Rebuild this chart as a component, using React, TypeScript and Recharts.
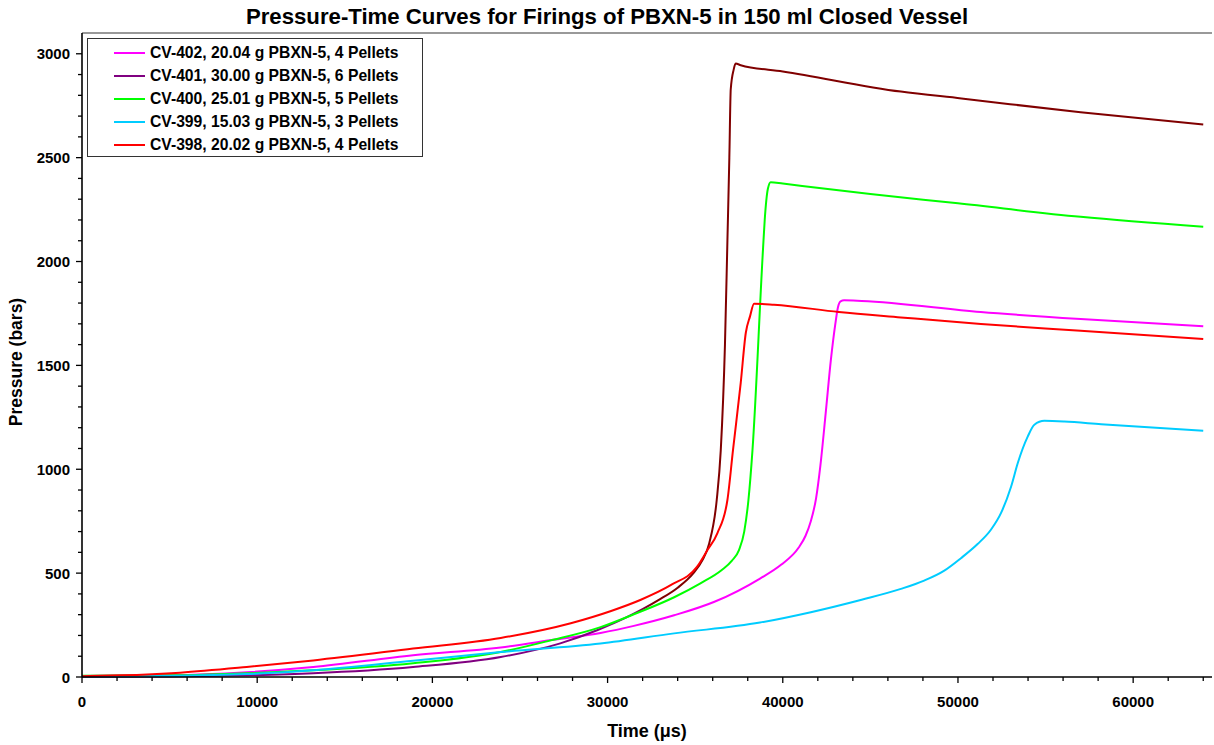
import React from 'react';
import { LineChart, Line, XAxis, YAxis, ReferenceLine, Legend } from 'recharts';

type Pt = [number, number];

// Pressure (bars) against time (µs) for each firing
const cv402: Pt[] = [
  [0, 5], [5000, 8], [9400, 23], [13200, 48], [18900, 105], [23900, 142], [27000, 180],
  [29600, 212], [31500, 246], [33800, 297], [36100, 362], [38700, 474], [39900, 540],
  [40900, 622], [41300, 680], [41600, 750], [41900, 860], [42150, 1020], [42450, 1270],
  [42750, 1530], [43000, 1700], [43150, 1780], [43300, 1808], [43500, 1813], [44500, 1810],
  [51300, 1757], [57000, 1723], [64000, 1688],
];

const cv401: Pt[] = [
  [0, 0], [5000, 2], [9400, 8], [13200, 18], [18900, 48], [23900, 96], [27300, 162],
  [29400, 225], [31100, 288], [32900, 370], [34000, 430], [34900, 500], [35400, 560],
  [35800, 643], [36230, 852], [36460, 1091], [36700, 1600], [36840, 2100], [36950, 2500],
  [37030, 2829], [37200, 2925], [37310, 2953], [37600, 2945], [40000, 2915], [46740, 2818],
  [50200, 2785], [57000, 2718], [64000, 2660],
];

const cv400: Pt[] = [
  [0, 6], [5600, 8], [9400, 18], [13200, 32], [18900, 66], [23900, 120], [26700, 175],
  [29600, 240], [31500, 302], [33800, 384], [35300, 451], [36500, 514], [37100, 560],
  [37500, 611], [37800, 700], [38040, 852], [38270, 1091], [38870, 2057], [38970, 2201],
  [39150, 2350], [39310, 2382], [40000, 2375], [45000, 2325], [50000, 2280], [57000, 2215],
  [64000, 2167],
];

const cv399: Pt[] = [
  [0, 2], [5000, 5], [9400, 14], [13200, 32], [18900, 78], [23900, 120], [29600, 161],
  [33800, 210], [38700, 262], [41600, 312], [44500, 372], [46740, 424], [48070, 464],
  [49220, 512], [50170, 572], [51120, 640], [51890, 710], [52460, 790], [53030, 916],
  [53410, 1029], [53980, 1157], [54360, 1214], [54930, 1233], [56070, 1230], [58170, 1217],
  [64000, 1185],
];

const cv398: Pt[] = [
  [0, 4], [2200, 8], [5600, 21], [9400, 48], [13200, 80], [18900, 137], [23900, 188],
  [27900, 259], [30200, 318], [31900, 372], [33600, 442], [35100, 530], [35700, 611],
  [36270, 693], [36840, 852], [37160, 1093], [37600, 1416], [37890, 1657], [38130, 1736],
  [38360, 1797], [39500, 1792], [43200, 1757], [46740, 1731], [51310, 1699], [57000, 1667],
  [64000, 1627],
];

const seriesNames = [
  'CV-402, 20.04 g PBXN-5, 4 Pellets',
  'CV-401, 30.00 g PBXN-5, 6 Pellets',
  'CV-400, 25.01 g PBXN-5, 5 Pellets',
  'CV-399, 15.03 g PBXN-5, 3 Pellets',
  'CV-398, 20.02 g PBXN-5, 4 Pellets',
];
const seriesData = [cv402, cv401, cv400, cv399, cv398];
const legendColors = ['#FF00FF', '#800080', '#00FF00', '#00CCFF', '#FF0000'];
const lineColors = ['#FF00FF', 'url(#cv401Stroke)', '#00FF00', '#00CCFF', '#FF0000'];

const xMajorTicks = [0, 10000, 20000, 30000, 40000, 50000, 60000];
const yMajorTicks = [0, 500, 1000, 1500, 2000, 2500, 3000];
const xMinorStep = 2000;
const yMinorStep = 100;
const xMax = 64500;
const yMax = 3100;

const xTicks: number[] = [];
for (let v = 0; v <= 64000; v += xMinorStep) xTicks.push(v);
const yTicks: number[] = [];
for (let v = 0; v <= 3000; v += yMinorStep) yTicks.push(v);

const FONT = '"Liberation Sans", Arial, sans-serif';

const XTick = (props: any) => {
  const { x, y, payload } = props;
  const major = xMajorTicks.includes(payload.value);
  return (
    <g>
      <line x1={x} y1={y} x2={x} y2={y + (major ? 6 : 4)} stroke="#000" strokeWidth={1.3} />
      {major && (
        <text x={x} y={y + 30} textAnchor="middle" fontFamily={FONT} fontWeight="bold" fontSize={15} fill="#000">
          {payload.value}
        </text>
      )}
    </g>
  );
};

const YTick = (props: any) => {
  const { x, y, payload } = props;
  const major = yMajorTicks.includes(payload.value);
  return (
    <g>
      <line x1={x} y1={y} x2={x - (major ? 6 : 4)} y2={y} stroke="#000" strokeWidth={1.3} />
      {major && (
        <text x={x - 12} y={y + 5.5} textAnchor="end" fontFamily={FONT} fontWeight="bold" fontSize={15} fill="#000">
          {payload.value}
        </text>
      )}
    </g>
  );
};

const YTitle = () => (
  <text
    transform="translate(22,362) rotate(-90)"
    textAnchor="middle"
    fontFamily={FONT}
    fontWeight="bold"
    fontSize={17.5}
    fill="#000"
  >
    Pressure (bars)
  </text>
);

const renderLegend = () => (
  <div
    style={{
      width: 336,
      height: 119,
      border: '1px solid #333',
      background: '#fff',
      boxSizing: 'border-box',
      paddingTop: 2,
    }}
  >
    {seriesNames.map((name, i) => (
      <div key={name} style={{ display: 'flex', alignItems: 'center', height: 23 }}>
        <span
          style={{
            display: 'inline-block',
            width: 31,
            height: 2,
            background: legendColors[i],
            marginLeft: 26,
            marginRight: 5,
          }}
        />
        <span style={{ fontFamily: FONT, fontWeight: 'bold', fontSize: 15.7, color: '#000', whiteSpace: 'nowrap' }}>
          {name}
        </span>
      </div>
    ))}
  </div>
);

export default function App() {
  return (
    <div style={{ position: 'absolute', left: 0, top: 0, width: 1214, height: 745, background: '#fff' }}>
      <div
        style={{
          position: 'absolute',
          left: 0,
          top: 4,
          width: 1214,
          textAlign: 'center',
          fontFamily: FONT,
          fontWeight: 'bold',
          fontSize: 22.2,
          lineHeight: '26px',
          color: '#000',
        }}
      >
        Pressure-Time Curves for Firings of PBXN-5 in 150 ml Closed Vessel
      </div>
      <LineChart width={1214} height={745} margin={{ top: 33, right: 2, bottom: 0, left: 0 }}>
        <defs>
          <linearGradient id="cv401Stroke" x1="0" y1="0" x2="1" y2="0">
            <stop offset="0" stopColor="#800080" />
            <stop offset="0.49" stopColor="#800080" />
            <stop offset="0.51" stopColor="#800000" />
            <stop offset="1" stopColor="#800000" />
          </linearGradient>
        </defs>
        <XAxis
          type="number"
          dataKey="t"
          domain={[0, xMax]}
          ticks={xTicks}
          interval={0}
          tickSize={0}
          tickMargin={0}
          tick={<XTick />}
          height={68}
          axisLine={{ stroke: '#000', strokeWidth: 1.6 }}
          allowDuplicatedCategory={false}
          label={{
            value: 'Time (μs)',
            position: 'insideBottom',
            offset: 8,
            style: { fontFamily: FONT, fontWeight: 'bold', fontSize: 18, fill: '#000' },
          }}
        />
        <YAxis
          type="number"
          domain={[0, yMax]}
          ticks={yTicks}
          interval={0}
          tickSize={0}
          tickMargin={0}
          tick={<YTick />}
          width={82}
          axisLine={{ stroke: '#000', strokeWidth: 1.6 }}
          label={<YTitle />}
        />
        <ReferenceLine y={yMax} stroke="#999" strokeWidth={2} />
        {seriesData.map((pts, i) => (
          <Line
            key={seriesNames[i]}
            name={seriesNames[i]}
            data={pts.map(([t, p]) => ({ t, p }))}
            dataKey="p"
            type="monotone"
            stroke={lineColors[i]}
            strokeWidth={2}
            dot={false}
            activeDot={false}
            isAnimationActive={false}
          />
        ))}
        <Legend
          layout="vertical"
          align="center"
          verticalAlign="middle"
          content={renderLegend}
          wrapperStyle={{ left: 87, top: 38, width: 336, height: 119 }}
        />
      </LineChart>
    </div>
  );
}
